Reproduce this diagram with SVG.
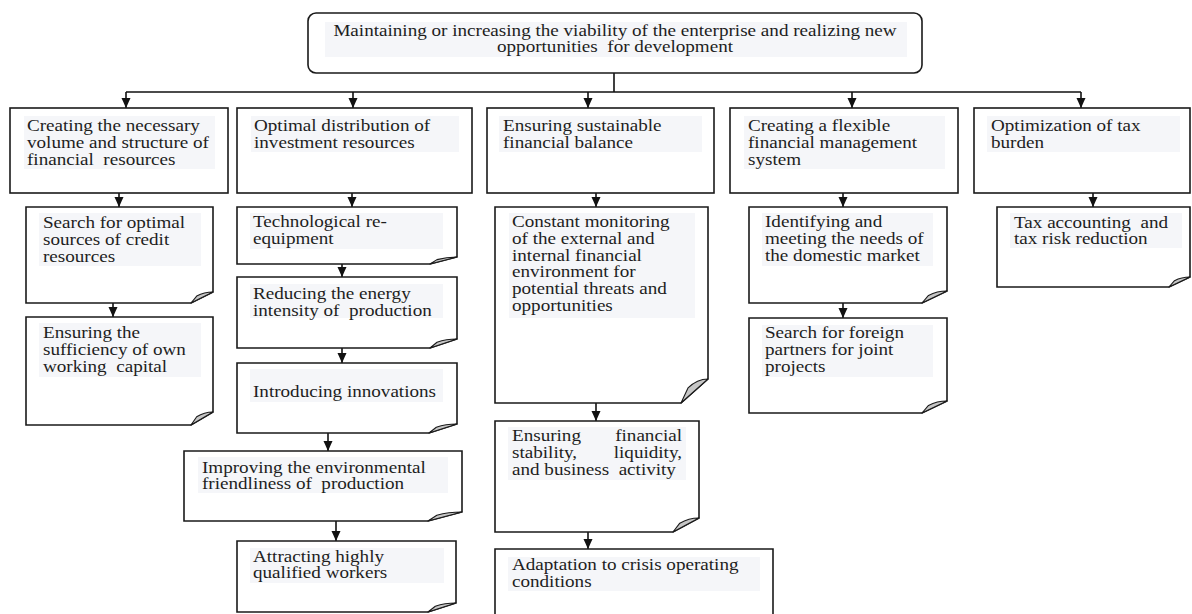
<svg xmlns="http://www.w3.org/2000/svg" width="1192" height="614" viewBox="0 0 1192 614">
<defs>
<marker id="ah" markerUnits="userSpaceOnUse" markerWidth="11" markerHeight="10" refX="10" refY="4.5" orient="auto">
<path d="M0,0 L10,4.5 L0,9 Z" fill="#111"/>
</marker>
<style>
.box{fill:#fff;stroke:#1a1a1a;stroke-width:1.6}
.fold{fill:#c6c6c6;stroke:#1a1a1a;stroke-width:1.1;stroke-linejoin:round}
.bg{fill:#f5f6f9}
.t{font-family:"Liberation Serif","Times New Roman",serif;font-size:16px;fill:#1e1e1e;white-space:pre}
.c{fill:none;stroke:#111;stroke-width:1.6}
</style>
</defs>
<rect width="1192" height="614" fill="#fff"/>

<g id="connectors">
<path class="c" d="M614,73 V92 M126,92 H1081"/>
<path class="c" d="M126,92 V108" marker-end="url(#ah)"/>
<path class="c" d="M353,92 V108" marker-end="url(#ah)"/>
<path class="c" d="M588,92 V108" marker-end="url(#ah)"/>
<path class="c" d="M852,92 V108" marker-end="url(#ah)"/>
<path class="c" d="M1081,92 V108" marker-end="url(#ah)"/>
<path class="c" d="M119,193 V207" marker-end="url(#ah)"/>
<path class="c" d="M113,303 V317" marker-end="url(#ah)"/>
<path class="c" d="M352,193 V207" marker-end="url(#ah)"/>
<path class="c" d="M342,264 V277" marker-end="url(#ah)"/>
<path class="c" d="M342,348 V363" marker-end="url(#ah)"/>
<path class="c" d="M328,433 V451" marker-end="url(#ah)"/>
<path class="c" d="M336,521 V541" marker-end="url(#ah)"/>
<path class="c" d="M596,193 V207" marker-end="url(#ah)"/>
<path class="c" d="M596,403 V421" marker-end="url(#ah)"/>
<path class="c" d="M588,532 V549" marker-end="url(#ah)"/>
<path class="c" d="M843,193 V207" marker-end="url(#ah)"/>
<path class="c" d="M843,303 V318" marker-end="url(#ah)"/>
<path class="c" d="M1093,193 V207" marker-end="url(#ah)"/>
</g>

<g id="top">
<rect class="box" x="308" y="13" width="614" height="60" rx="8"/>
<rect class="bg" x="325" y="22" width="582" height="35"/>
<text class="t" transform="translate(615,36) scale(1.195,1)" text-anchor="middle"><tspan x="0" y="0">Maintaining or increasing the viability of the enterprise and realizing new</tspan><tspan x="0" y="16.5">opportunities  for development</tspan></text>
</g>

<g id="l1-resources">
<rect class="box" x="10" y="108" width="218" height="85"/>
<rect class="bg" x="24" y="116" width="191" height="53"/>
<text class="t" transform="translate(27,131) scale(1.195,1)"><tspan x="0" y="0">Creating the necessary</tspan><tspan x="0" y="17">volume and structure of</tspan><tspan x="0" y="34">financial  resources</tspan></text>
</g>
<g id="l1-investment">
<rect class="box" x="237" y="108" width="235" height="85"/>
<rect class="bg" x="251" y="116" width="208" height="36"/>
<text class="t" transform="translate(254,131) scale(1.195,1)"><tspan x="0" y="0">Optimal distribution of</tspan><tspan x="0" y="17">investment resources</tspan></text>
</g>
<g id="l1-balance">
<rect class="box" x="487" y="108" width="227" height="85"/>
<rect class="bg" x="499" y="116" width="203" height="36"/>
<text class="t" transform="translate(503,131) scale(1.195,1)"><tspan x="0" y="0">Ensuring sustainable</tspan><tspan x="0" y="17">financial balance</tspan></text>
</g>
<g id="l1-flexible">
<rect class="box" x="730" y="108" width="228" height="85"/>
<rect class="bg" x="744" y="116" width="201" height="53"/>
<text class="t" transform="translate(748,131) scale(1.195,1)"><tspan x="0" y="0">Creating a flexible</tspan><tspan x="0" y="17">financial management</tspan><tspan x="0" y="34">system</tspan></text>
</g>
<g id="l1-tax">
<rect class="box" x="974" y="108" width="216" height="85"/>
<rect class="bg" x="987" y="116" width="193" height="36"/>
<text class="t" transform="translate(991,131) scale(1.195,1)"><tspan x="0" y="0">Optimization of tax</tspan><tspan x="0" y="17">burden</tspan></text>
</g>

<g id="s1a">
<path class="box" d="M26,207 H213 V292 L191,303 H26 Z"/>
<path class="fold" d="M191,303 L196.7,296.1 Q204.2,292 213,292 Z"/>
<rect class="bg" x="39" y="213" width="162" height="53"/>
<text class="t" transform="translate(43,228) scale(1.195,1)"><tspan x="0" y="0">Search for optimal</tspan><tspan x="0" y="17">sources of credit</tspan><tspan x="0" y="34">resources</tspan></text>
</g>
<g id="s1b">
<path class="box" d="M26,317 H213 V412 L191,425 H26 Z"/>
<path class="fold" d="M191,425 L196.7,416.8 Q204.2,412 213,412 Z"/>
<rect class="bg" x="39" y="323" width="162" height="54"/>
<text class="t" transform="translate(43,338) scale(1.195,1)"><tspan x="0" y="0">Ensuring the</tspan><tspan x="0" y="17">sufficiency of own</tspan><tspan x="0" y="34">working  capital</tspan></text>
</g>

<g id="s2a">
<path class="box" d="M237,207 H457 V257 L430,264 H237 Z"/>
<path class="fold" d="M430,264 L437,259.6 Q446.2,257 457,257 Z"/>
<rect class="bg" x="250" y="213" width="193" height="36"/>
<text class="t" transform="translate(253,227) scale(1.195,1)"><tspan x="0" y="0">Technological re-</tspan><tspan x="0" y="17">equipment</tspan></text>
</g>
<g id="s2b">
<path class="box" d="M237,277 H457 V339 L430,348 H237 Z"/>
<path class="fold" d="M430,348 L437,342.3 Q446.2,339 457,339 Z"/>
<rect class="bg" x="250" y="284" width="193" height="34"/>
<text class="t" transform="translate(253,299) scale(1.195,1)"><tspan x="0" y="0">Reducing the energy</tspan><tspan x="0" y="17">intensity of  production</tspan></text>
</g>
<g id="s2c">
<path class="box" d="M237,363 H457 V424 L429,433 H237 Z"/>
<path class="fold" d="M429,433 L436.3,427.3 Q445.8,424 457,424 Z"/>
<rect class="bg" x="250" y="369" width="193" height="33"/>
<text class="t" transform="translate(253,397) scale(1.195,1)">Introducing innovations</text>
</g>
<g id="s2d">
<path class="box" d="M184,451 H462 V512 L428,521 H184 Z"/>
<path class="fold" d="M428,521 L436.8,515.3 Q448.4,512 462,512 Z"/>
<rect class="bg" x="198" y="457" width="250" height="36"/>
<text class="t" transform="translate(202,473) scale(1.195,1)"><tspan x="0" y="0">Improving the environmental</tspan><tspan x="0" y="16">friendliness of  production</tspan></text>
</g>
<g id="s2e">
<path class="box" d="M237,541 H456 V603 L428,612 H237 Z"/>
<path class="fold" d="M428,612 L435.3,606.3 Q444.8,603 456,603 Z"/>
<rect class="bg" x="250" y="548" width="194" height="35"/>
<text class="t" transform="translate(253,562) scale(1.195,1)"><tspan x="0" y="0">Attracting highly</tspan><tspan x="0" y="16.5">qualified workers</tspan></text>
</g>

<g id="s3a">
<path class="box" d="M495,207 H708 V379 L681,403 H495 Z"/>
<path class="fold" d="M681,403 L688,387.9 Q697.2,379 708,379 Z"/>
<rect class="bg" x="509" y="213" width="186" height="105"/>
<text class="t" transform="translate(512,227) scale(1.195,1)"><tspan x="0" y="0">Constant monitoring</tspan><tspan x="0" y="16.8">of the external and</tspan><tspan x="0" y="33.6">internal financial</tspan><tspan x="0" y="50.4">environment for</tspan><tspan x="0" y="67.2">potential threats and</tspan><tspan x="0" y="84">opportunities</tspan></text>
</g>
<g id="s3b">
<path class="box" d="M495,421 H699 V518 L673,532 H495 Z"/>
<path class="fold" d="M673,532 L679.8,523.2 Q688.6,518 699,518 Z"/>
<rect class="bg" x="508" y="427" width="178" height="53"/>
<text class="t" transform="translate(512,441) scale(1.195,1)">Ensuring</text>
<text class="t" transform="translate(682,441) scale(1.195,1)" text-anchor="end">financial</text>
<text class="t" transform="translate(512,458) scale(1.195,1)">stability,</text>
<text class="t" transform="translate(682,458) scale(1.195,1)" text-anchor="end">liquidity,</text>
<text class="t" transform="translate(512,475) scale(1.195,1)">and business  activity</text>
</g>
<g id="s3c">
<path class="box" d="M495,549 H773 V617 L747,622 H495 Z"/>
<path class="fold" d="M747,622 L753.8,618.9 Q762.6,617 773,617 Z"/>
<rect class="bg" x="508" y="557" width="252" height="34"/>
<text class="t" transform="translate(512,570) scale(1.195,1)"><tspan x="0" y="0">Adaptation to crisis operating</tspan><tspan x="0" y="17">conditions</tspan></text>
</g>

<g id="s4a">
<path class="box" d="M749,207 H947 V291 L922,303 H749 Z"/>
<path class="fold" d="M922,303 L928.5,295.4 Q937,291 947,291 Z"/>
<rect class="bg" x="762" y="213" width="171" height="53"/>
<text class="t" transform="translate(765,227) scale(1.195,1)"><tspan x="0" y="0">Identifying and</tspan><tspan x="0" y="17">meeting the needs of</tspan><tspan x="0" y="34">the domestic market</tspan></text>
</g>
<g id="s4b">
<path class="box" d="M749,318 H947 V401 L922,413 H749 Z"/>
<path class="fold" d="M922,413 L928.5,405.4 Q937,401 947,401 Z"/>
<rect class="bg" x="762" y="325" width="171" height="52"/>
<text class="t" transform="translate(765,338) scale(1.195,1)"><tspan x="0" y="0">Search for foreign</tspan><tspan x="0" y="17">partners for joint</tspan><tspan x="0" y="34">projects</tspan></text>
</g>

<g id="s5a">
<path class="box" d="M997,207 H1190 V277 L1169,287 H997 Z"/>
<path class="fold" d="M1169,287 L1174.5,280.7 Q1181.6,277 1190,277 Z"/>
<rect class="bg" x="1010" y="213" width="172" height="35"/>
<text class="t" transform="translate(1014,228) scale(1.195,1)"><tspan x="0" y="0">Tax accounting  and</tspan><tspan x="0" y="16.5">tax risk reduction</tspan></text>
</g>
</svg>
